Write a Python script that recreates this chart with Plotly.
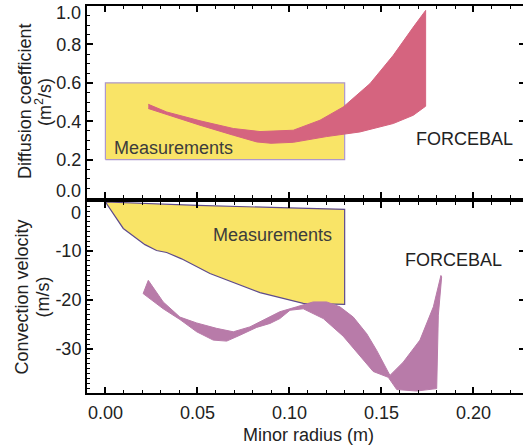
import plotly.graph_objects as go

# ---------------- data ----------------
# Top panel: diffusion coefficient (m^2/s)
meas_D_x = [0.0, 0.13]
meas_D_lo = 0.2
meas_D_hi = 0.6

forcebal_D_up_x = [0.0233, 0.0333, 0.0514, 0.0695, 0.0840, 0.1021, 0.1166, 0.1292, 0.1438, 0.1564, 0.1673, 0.1740]
forcebal_D_up_y = [0.488, 0.448, 0.402, 0.362, 0.346, 0.353, 0.405, 0.474, 0.596, 0.743, 0.890, 0.977]
forcebal_D_lo_x = [0.0233, 0.0514, 0.0695, 0.0822, 0.0900, 0.1021, 0.1202, 0.1383, 0.1564, 0.1673, 0.1740]
forcebal_D_lo_y = [0.466, 0.379, 0.327, 0.292, 0.285, 0.290, 0.320, 0.344, 0.388, 0.431, 0.478]

# Bottom panel: convection velocity (m/s)
meas_V_up_x = [0.0, 0.05, 0.10, 0.13]
meas_V_up_y = [0.0, -0.7, -1.2, -1.5]
meas_V_lo_x = [0.0, 0.0097, 0.0215, 0.0278, 0.0333, 0.0414, 0.0568, 0.0695, 0.0840, 0.1075, 0.13]
meas_V_lo_y = [0.0, -5.4, -8.7, -9.9, -10.3, -11.6, -14.6, -16.4, -18.5, -20.7, -20.9]

# FORCEBAL band outline: upper edge -> right spike -> lower edge back
forcebal_V_x = [0.0233, 0.0314, 0.0405, 0.0496, 0.0604, 0.0695, 0.0785, 0.0876, 0.0948, 0.1039,
                0.1129, 0.1202, 0.1274, 0.1347, 0.1420, 0.1474, 0.1546,
                0.1618, 0.1709, 0.1782, 0.1823, 0.1827, 0.1809, 0.1800,
                0.1691, 0.1583, 0.1537,
                0.1455, 0.1383, 0.1292, 0.1184, 0.1075, 0.1003, 0.0948, 0.0894,
                0.0822, 0.0731, 0.0659, 0.0586, 0.0496, 0.0405, 0.0314, 0.0205]
forcebal_V_y = [-16.0, -20.4, -23.5, -24.7, -25.8, -26.5, -25.5, -23.8, -22.4, -21.4,
                -20.4, -20.4, -21.4, -23.5, -26.9, -30.3, -35.4,
                -32.7, -28.2, -21.4, -15.0, -15.3, -23.1, -38.1,
                -38.6, -38.3, -35.8,
                -34.6, -31.4, -27.4, -23.8, -21.8, -22.1, -23.8, -24.8,
                -25.6, -27.2, -28.4, -28.2, -26.5, -24.0, -21.8, -18.7]

x_ticks = [0.0, 0.05, 0.10, 0.15, 0.20]
D_ticks = [0.0, 0.2, 0.4, 0.6, 0.8, 1.0]
D_ticktext = ["", "0.2", "0.4", "0.6", "0.8", ""]
V_ticks = [-30, -20, -10, 0]
V_ticktext = ["-30", "-20", "-10", ""]

# ---------------- styling ----------------
FONT = "Liberation Sans, Arial, Helvetica, sans-serif"
YELLOW = "#f9e467"
PINK = "#d5647f"
PURPLE = "#b87ba9"
TXT = "#222222"

fig = go.Figure()

fig.add_trace(go.Scatter(
    x=[meas_D_x[0], meas_D_x[1], meas_D_x[1], meas_D_x[0], meas_D_x[0]],
    y=[meas_D_lo, meas_D_lo, meas_D_hi, meas_D_hi, meas_D_lo],
    xaxis="x2", yaxis="y2", mode="lines", fill="toself",
    fillcolor=YELLOW, line=dict(color="#ad98cc", width=1.2), hoverinfo="skip"))

fig.add_trace(go.Scatter(
    x=forcebal_D_up_x + forcebal_D_lo_x[::-1],
    y=forcebal_D_up_y + forcebal_D_lo_y[::-1],
    xaxis="x2", yaxis="y2", mode="lines", fill="toself",
    fillcolor=PINK, line=dict(color=PINK, width=1), hoverinfo="skip"))

fig.add_trace(go.Scatter(
    x=meas_V_up_x + meas_V_lo_x[::-1] + [meas_V_up_x[0]],
    y=meas_V_up_y + meas_V_lo_y[::-1] + [meas_V_up_y[0]],
    xaxis="x", yaxis="y", mode="lines", fill="toself",
    fillcolor=YELLOW, line=dict(color="#5e4b8c", width=1.2), hoverinfo="skip"))

fig.add_trace(go.Scatter(
    x=forcebal_V_x + [forcebal_V_x[0]],
    y=forcebal_V_y + [forcebal_V_y[0]],
    xaxis="x", yaxis="y", mode="lines", fill="toself",
    fillcolor=PURPLE, line=dict(color=PURPLE, width=1), hoverinfo="skip"))

fig.add_trace(go.Scatter(x=[0.1], y=[-20], xaxis="x", yaxis="y3", mode="markers",
                         marker=dict(opacity=0), hoverinfo="skip"))
fig.add_trace(go.Scatter(x=[0.1], y=[0.5], xaxis="x2", yaxis="y4", mode="markers",
                         marker=dict(opacity=0), hoverinfo="skip"))

XR = [-0.01, 0.2269]
common_x = dict(range=XR, showgrid=False, zeroline=False, showline=True, mirror="ticks",
                linecolor="black", linewidth=2, ticks="inside", ticklen=6, tickwidth=1.5,
                tickcolor="black", tickvals=x_ticks, automargin=False,
                minor=dict(dtick=0.01, tick0=0, ticks="inside", ticklen=3, tickwidth=1.2,
                           tickcolor="black"))
common_y = dict(showgrid=False, zeroline=False, showline=True, linecolor="black", linewidth=2,
                ticks="inside", ticklen=6, tickwidth=1.5, tickcolor="black",
                tickfont=dict(size=18, color=TXT), automargin=False)
right_y = dict(showgrid=False, zeroline=False, showline=False, ticks="inside", ticklen=4,
               tickwidth=1.5, tickcolor="black", showticklabels=False, automargin=False)

fig.update_layout(
    width=523, height=447,
    margin=dict(l=87, r=0, t=6, b=54, autoexpand=False),
    paper_bgcolor="white", plot_bgcolor="white",
    showlegend=False,
    font=dict(family=FONT, size=18, color=TXT),
    xaxis=dict(**common_x, anchor="y", domain=[0, 1], tickformat=".2f",
               tickfont=dict(size=18, color=TXT), ticklabelstandoff=2),
    xaxis2=dict(**common_x, anchor="y2", domain=[0, 1], showticklabels=False, matches="x"),
    yaxis=dict(**common_y, domain=[0, 0.4935], range=[-39, 0], tickvals=V_ticks,
               ticktext=V_ticktext, anchor="x",
               minor=dict(dtick=1, tick0=0, ticks="inside", ticklen=3, tickwidth=1.2,
                          tickcolor="black")),
    yaxis2=dict(**common_y, domain=[0.5039, 1], range=[0, 1], tickvals=D_ticks,
                ticktext=D_ticktext, anchor="x2",
                minor=dict(dtick=0.05, tick0=0, ticks="inside", ticklen=3, tickwidth=1.2,
                           tickcolor="black")),
    yaxis3=dict(**right_y, overlaying="y", side="right", range=[-39, 0],
                tickvals=V_ticks[:3], anchor="x"),
    yaxis4=dict(**right_y, overlaying="y2", side="right", range=[0, 1],
                tickvals=D_ticks[1:5], anchor="x2"),
)

ann = []
ann.append(dict(text="1.0", xref="paper", x=0, xanchor="right", xshift=-4,
                yref="y2", y=1.0, yanchor="middle", yshift=-7, showarrow=False,
                font=dict(size=18, color=TXT)))
ann.append(dict(text="0.0", xref="paper", x=0, xanchor="right", xshift=-4,
                yref="y2", y=0.0, yanchor="middle", yshift=7, showarrow=False,
                font=dict(size=18, color=TXT)))
ann.append(dict(text="0", xref="paper", x=0, xanchor="right", xshift=-4,
                yref="y", y=0.0, yanchor="middle", yshift=-11, showarrow=False,
                font=dict(size=18, color=TXT)))
ann.append(dict(text="Diffusion coefficient", xref="paper", x=0, xshift=-62, xanchor="center",
                yref="y2", y=0.5, yanchor="middle", textangle=-90, showarrow=False,
                font=dict(size=18, color=TXT)))
ann.append(dict(text="(m<sup>2</sup>/s)", xref="paper", x=0, xshift=-44, xanchor="center",
                yref="y2", y=0.5, yanchor="middle", textangle=-90, showarrow=False,
                font=dict(size=18, color=TXT)))
ann.append(dict(text="Convection velocity", xref="paper", x=0, xshift=-65, xanchor="center",
                yref="y", y=-19.5, yanchor="middle", textangle=-90, showarrow=False,
                font=dict(size=18, color=TXT)))
ann.append(dict(text="(m/s)", xref="paper", x=0, xshift=-44, xanchor="center",
                yref="y", y=-19.5, yanchor="middle", textangle=-90, showarrow=False,
                font=dict(size=18, color=TXT)))
ann.append(dict(text="Minor radius (m)", xref="x", x=0.1103, yref="paper", y=0,
                yanchor="middle", yshift=-42, showarrow=False,
                font=dict(size=18, color=TXT)))
ann.append(dict(text="Measurements", xref="x2", x=0.0035, xanchor="left",
                yref="y2", y=0.26, yanchor="middle", showarrow=False,
                font=dict(size=18, color="#3c3c3c")))
ann.append(dict(text="FORCEBAL", xref="x2", x=0.1677, xanchor="left",
                yref="y2", y=0.306, yanchor="middle", showarrow=False,
                font=dict(size=18, color=TXT)))
ann.append(dict(text="Measurements", xref="x", x=0.0572, xanchor="left",
                yref="y", y=-6.65, yanchor="middle", showarrow=False,
                font=dict(size=18, color="#3c3c3c")))
ann.append(dict(text="FORCEBAL", xref="x", x=0.1615, xanchor="left",
                yref="y", y=-11.9, yanchor="middle", showarrow=False,
                font=dict(size=18, color=TXT)))
fig.update_layout(annotations=ann)

fig.write_html("out.html", config={"displayModeBar": False},
               post_script="document.body.style.margin='0';document.body.style.overflow='hidden';")
